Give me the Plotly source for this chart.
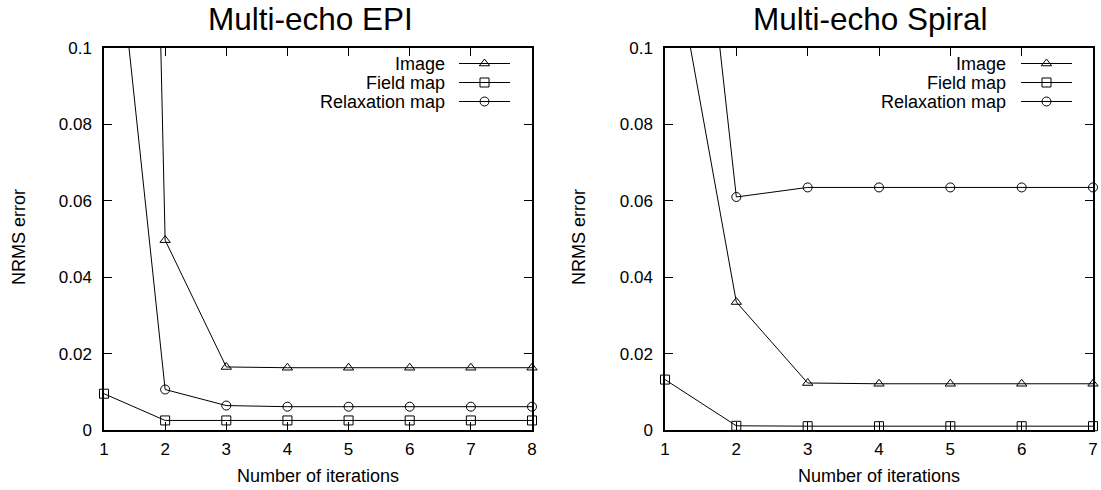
import plotly.graph_objects as go

# ---------------- data ----------------
epi_iter = [1, 2, 3, 4, 5, 6, 7, 8]
epi_image = [0.76, 0.0497, 0.0165, 0.0163, 0.0163, 0.0163, 0.0163, 0.0163]
epi_field = [0.0095, 0.0025, 0.0025, 0.0025, 0.0025, 0.0025, 0.0025, 0.0025]
epi_relax = [0.162, 0.0106, 0.0064, 0.0061, 0.0061, 0.0061, 0.0061, 0.0061]

spiral_iter = [1, 2, 3, 4, 5, 6, 7]
spiral_image = [0.137, 0.0335, 0.0123, 0.0121, 0.0121, 0.0121, 0.0121]
spiral_field = [0.0132, 0.0011, 0.0010, 0.0010, 0.0010, 0.0010, 0.0010]
spiral_relax = [0.23, 0.061, 0.0635, 0.0635, 0.0635, 0.0635, 0.0635]

series_names = ["Image", "Field map", "Relaxation map"]
series_symbols = ["triangle-up-open", "square-open", "circle-open"]
titles = ["Multi-echo EPI", "Multi-echo Spiral"]
y_ticks = [0, 0.02, 0.04, 0.06, 0.08, 0.1]
y_ticktext = ["0", "0.02", "0.04", "0.06", "0.08", "0.1"]
YMAX = 0.1

W, H = 1101, 490
FONT = "Liberation Sans, Arial, Helvetica, sans-serif"

fig = go.Figure()

panels = [
    (epi_iter, [epi_image, epi_field, epi_relax], "x", "y"),
    (spiral_iter, [spiral_image, spiral_field, spiral_relax], "x2", "y2"),
]

for xs, ys_list, xa, ya in panels:
    for ys, sym in zip(ys_list, series_symbols):
        fig.add_trace(go.Scatter(
            x=xs, y=ys, mode="lines", xaxis=xa, yaxis=ya,
            line=dict(color="black", width=1), showlegend=False, hoverinfo="skip"))
        fig.add_trace(go.Scatter(
            x=xs, y=ys, mode="markers", xaxis=xa, yaxis=ya, cliponaxis=False,
            marker=dict(symbol=sym, size=9, color="black",
                        opacity=[1 if v <= YMAX else 0 for v in ys],
                        line=dict(width=1, color="black")),
            showlegend=False))

# pixel-space helper axes for legends
px_axis = dict(domain=[0, 1], visible=False, fixedrange=True, automargin=False)
fig.update_layout(
    xaxis3=dict(px_axis, range=[0, W], anchor="y3"),
    yaxis3=dict(px_axis, range=[H, 0], anchor="x3"),
)

legend_rows_y = [63.5, 82.5, 101.5]
legend_geo = [  # text right edge, line start, line end
    (447, 459, 510),
    (1008, 1021, 1072),
]
for (tx, l0, l1) in legend_geo:
    for name, sym, ry in zip(series_names, series_symbols, legend_rows_y):
        fig.add_annotation(x=tx / W, y=1 - ry / H, xref="paper", yref="paper",
                           text=name, showarrow=False, xanchor="right", yanchor="middle",
                           font=dict(size=18, color="black", family=FONT))
        fig.add_trace(go.Scatter(
            x=[l0, l1], y=[ry, ry], mode="lines", xaxis="x3", yaxis="y3",
            line=dict(color="black", width=1), showlegend=False, hoverinfo="skip"))
        fig.add_trace(go.Scatter(
            x=[(l0 + l1) / 2], y=[ry], mode="markers", xaxis="x3", yaxis="y3",
            marker=dict(symbol=sym, size=9, color="black", line=dict(width=1, color="black")),
            showlegend=False, hoverinfo="skip"))

# axes
L1, R1, L2, R2 = 104, 532, 665, 1093
TOP, BOT = 48, 430
axis_common = dict(showline=True, linecolor="black", linewidth=1.5, mirror="ticks",
                   ticks="inside", ticklen=8, tickcolor="black", tickwidth=1,
                   showgrid=False, zeroline=False, fixedrange=True, automargin=False,
                   tickfont=dict(size=17, color="black", family=FONT))
fig.update_layout(
    xaxis=dict(axis_common, domain=[L1 / W, R1 / W], range=[1, 8], tickvals=epi_iter,
               anchor="y", ticklabelstandoff=3),
    yaxis=dict(axis_common, domain=[1 - BOT / H, 1 - TOP / H], range=[0, YMAX],
               tickvals=y_ticks, ticktext=y_ticktext, anchor="x", ticklabelstandoff=7),
    xaxis2=dict(axis_common, domain=[L2 / W, R2 / W], range=[1, 7], tickvals=spiral_iter,
                anchor="y2", ticklabelstandoff=3),
    yaxis2=dict(axis_common, domain=[1 - BOT / H, 1 - TOP / H], range=[0, YMAX],
                tickvals=y_ticks, ticktext=y_ticktext, anchor="x2", ticklabelstandoff=7),
)

# titles and axis labels
for title, tcx, l, r in [(titles[0], 310, L1, R1), (titles[1], 870.5, L2, R2)]:
    cx = (l + r) / 2 / W
    fig.add_annotation(x=tcx / W, y=1 - 18.5 / H, xref="paper", yref="paper", text=title,
                       showarrow=False, xanchor="center", yanchor="middle",
                       font=dict(size=31.5, color="black", family=FONT))
    fig.add_annotation(x=cx, y=1 - 475.5 / H, xref="paper", yref="paper",
                       text="Number of iterations", showarrow=False,
                       xanchor="center", yanchor="middle",
                       font=dict(size=18, color="black", family=FONT))
for x_px in [19, 579]:
    fig.add_annotation(x=x_px / W, y=1 - 237 / H, xref="paper", yref="paper",
                       text="NRMS error", showarrow=False, textangle=-90,
                       xanchor="center", yanchor="middle",
                       font=dict(size=18, color="black", family=FONT))

fig.update_layout(
    width=W, height=H, margin=dict(l=0, r=0, t=0, b=0, pad=0),
    paper_bgcolor="white", plot_bgcolor="rgba(0,0,0,0)", showlegend=False,
    font=dict(family=FONT, color="black"),
    title=dict(text=""),
)

fig.write_html("out.html", config={"displayModeBar": False},
               post_script="document.body.style.margin='0px';document.body.style.padding='0px';")
